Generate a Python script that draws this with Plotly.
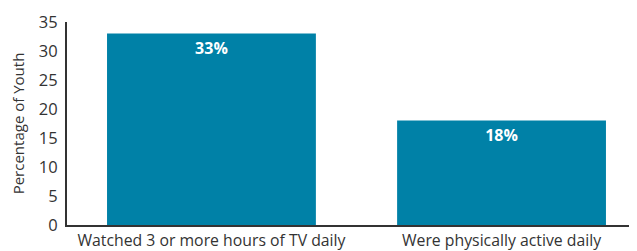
import plotly.graph_objects as go

categories = ["Watched 3 or more hours of TV daily", "Were physically active daily"]
values = [33, 18]
labels = ["33%", "18%"]
y_ticks = [0, 5, 10, 15, 20, 25, 30, 35]

fig = go.Figure()
fig.add_trace(go.Bar(
    x=[0, 1], y=values, width=0.72,
    marker=dict(color="#0081A7", line=dict(width=0)),
    text=labels, textposition="inside", insidetextanchor="end",
    textfont=dict(family="Open Sans", size=16, color="white", weight="bold"),
    textangle=0,
))
fig.update_layout(
    width=629, height=243,
    margin=dict(l=59, r=0, t=14, b=23, pad=0),
    paper_bgcolor="white", plot_bgcolor="white",
    showlegend=False,
    font=dict(family="Open Sans", color="#333333"),
    xaxis=dict(
        range=[-0.498, 1.467], tickvals=[0, 1], ticktext=categories,
        showline=True, linecolor="#333333", linewidth=2,
        showgrid=False, zeroline=False, ticks="",
        tickfont=dict(size=15.8, color="#333333"),
    ),
    yaxis=dict(
        range=[0, 35], tickvals=y_ticks,
        showline=True, linecolor="#333333", linewidth=2,
        showgrid=False, zeroline=False, ticks="",
        ticklabelstandoff=4,
        tickfont=dict(size=16.5, color="#333333"),
        title=dict(text="Percentage of Youth", font=dict(size=15, color="#333333"), standoff=12),
    ),
)
fig.write_html("out.html")
